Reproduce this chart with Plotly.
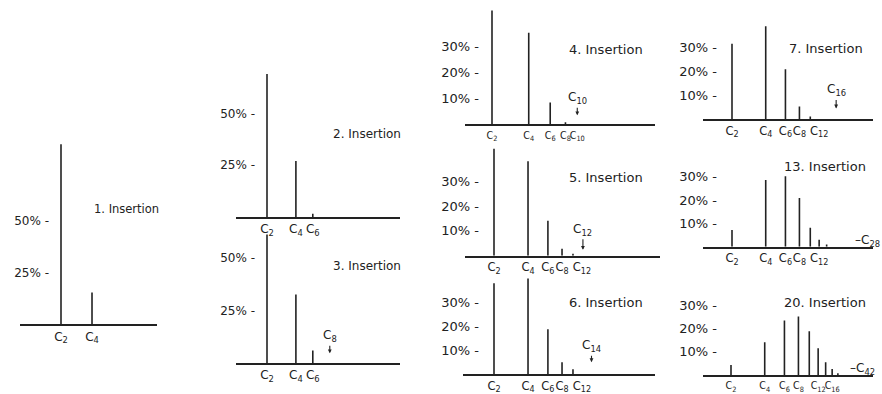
import math
import plotly.graph_objects as go

# ---------------- data (percent of chains per chain length) ----------------
ins1_c = [2, 4]
ins1_v = [87, 15.4]
ins2_c = [2, 4, 6]
ins2_v = [69, 27, 1.5]
ins3_c = [2, 4, 6]
ins3_v = [61, 32.5, 6]
ins4_c = [2, 4, 6, 8]
ins4_v = [44, 35.4, 8.5, 0.8]
ins5_c = [2, 4, 6, 8, 10]
ins5_v = [43, 38, 14, 2.8, 0.8]
ins6_c = [2, 4, 6, 8, 10]
ins6_v = [38, 40, 18.8, 5, 2]
ins7_c = [2, 4, 6, 8, 10]
ins7_v = [31.7, 39, 21, 5.4, 1.2]
ins13_c = [2, 4, 6, 8, 10, 12, 14]
ins13_v = [7.2, 28.5, 30.2, 20.9, 8.1, 3, 1]
ins20_c = [2, 4, 6, 8, 10, 12, 14, 16, 18]
ins20_v = [4.3, 14, 23.4, 25.1, 18.7, 11.5, 5.5, 2.6, 0.8]

titles = ["1. Insertion", "2. Insertion", "3. Insertion", "4. Insertion",
          "5. Insertion", "6. Insertion", "7. Insertion", "13. Insertion",
          "20. Insertion"]

xt_p1 = [2, 4]
xt_p2 = [2, 4, 6]
xt_p4 = [2, 4, 6, 8, 10]
xt_p5 = [2, 4, 6, 8, 12]
xt_p9 = [2, 4, 6, 8, 12, 16]

yt_big = [25, 50]
yt_small = [10, 20, 30]

arrow_c = [None, None, 8, 10, 12, 14, 16, None, None]
tail_label = [None, None, None, None, None, None, None, "28", "42"]

# ---------------- layout geometry (pixels) ----------------
W, H = 882, 394
FONT = "DejaVu Sans"
NARROW = "DejaVu Sans Condensed, Liberation Sans Narrow, Roboto, DejaVu Sans"
INK = "#222222"

geom = [
    dict(c=ins1_c, v=ins1_v, xa=20, xb=157, p2=61, d=103, base=325, ppu=2.08, top=136, yt=yt_big, labr=49, xt=xt_p1, xfs=12, xff=FONT, tx=126, ty=209, tfs=11.5, yfs=12, arr=None),
    dict(c=ins2_c, v=ins2_v, xa=236, xb=400, p2=267, d=96, base=217, ppu=2.08, top=68, yt=yt_big, labr=255, xt=xt_p2, xfs=12, xff=FONT, tx=367, ty=134, tfs=12, yfs=12, arr=None),
    dict(c=ins3_c, v=ins3_v, xa=236, xb=400, p2=267, d=96, base=364, ppu=2.12, top=230, yt=yt_big, labr=255, xt=xt_p2, xfs=12, xff=FONT, tx=367, ty=266, tfs=12, yfs=12, arr=(4.7, -17, 5)),
    dict(c=ins4_c, v=ins4_v, xa=465, xb=655, p2=492, d=122, base=124, ppu=2.6, top=6, yt=yt_small, labr=479, xt=xt_p4, xfs=10.5, xff=NARROW, tx=606, ty=49, tfs=13, yfs=13, arr=(3.5, -17, 0)),
    dict(c=ins5_c, v=ins5_v, xa=465, xb=660, p2=494, d=113, base=256, ppu=2.5, top=145, yt=yt_small, labr=479, xt=xt_p5, xfs=11.5, xff=FONT, tx=606, ty=177, tfs=13, yfs=13, arr=(2.4, -20, 1)),
    dict(c=ins6_c, v=ins6_v, xa=463, xb=655, p2=494, d=113, base=375, ppu=2.4, top=275, yt=yt_small, labr=479, xt=xt_p5, xfs=11.5, xff=FONT, tx=606, ty=303, tfs=13, yfs=13, arr=(5, -16, 2)),
    dict(c=ins7_c, v=ins7_v, xa=703, xb=873, p2=732, d=112, base=119, ppu=2.4, top=21, yt=yt_small, labr=717, xt=xt_p5, xfs=11.5, xff=FONT, tx=826, ty=48, tfs=13, yfs=13, arr=(4.6, -18, 3)),
    dict(c=ins13_c, v=ins13_v, xa=703, xb=873, p2=732, d=112, base=247, ppu=2.35, top=170, yt=yt_small, labr=717, xt=xt_p5, xfs=11.5, xff=FONT, tx=825, ty=166, tfs=13, yfs=13, arr=None),
    dict(c=ins20_c, v=ins20_v, xa=703, xb=873, p2=731, d=112, base=376, ppu=2.35, top=298, yt=yt_small, labr=717, xt=xt_p9, xfs=10.5, xff=NARROW, tx=825, ty=303, tfs=13, yfs=13, arr=None),
]

tail_pos = [None] * 7 + [(853, 241), (848, 370)]

fig = go.Figure()
annotations = []

for k, g in enumerate(geom, start=1):
    xs, ys = [], []
    for c, v in zip(g["c"], g["v"]):
        xs += [c, c, None]
        ys += [0, v, None]
    sfx = "" if k == 1 else str(k)
    fig.add_trace(go.Scatter(
        x=xs, y=ys, mode="lines", xaxis="x" + sfx, yaxis="y" + sfx,
        line=dict(color=INK, width=1.6), hoverinfo="skip", showlegend=False,
        cliponaxis=False,
    ))
    l2 = math.log10(2)
    xr = [l2 - (g["p2"] - g["xa"]) / g["d"], l2 + (g["xb"] - g["p2"]) / g["d"]]
    yr = [0, (g["base"] - g["top"]) / g["ppu"]]
    fig.layout["xaxis" + sfx] = dict(
        type="log", range=xr, domain=[g["xa"] / W, g["xb"] / W],
        anchor="y" + sfx, showline=True, linecolor=INK, linewidth=1.6,
        showgrid=False, zeroline=False, ticks="", tickangle=0,
        tickvals=g["xt"], ticktext=[f"C<sub>{t}</sub>" for t in g["xt"]],
        tickfont=dict(family=g["xff"], size=g["xfs"], color=INK), fixedrange=True,
    )
    fig.layout["yaxis" + sfx] = dict(
        range=yr, domain=[1 - g["base"] / H, 1 - g["top"] / H],
        anchor="free", position=g["labr"] / W, side="left",
        showline=False, showgrid=False, zeroline=False, ticks="",
        tickvals=g["yt"], ticktext=[f"{t}% -" for t in g["yt"]],
        tickfont=dict(family=FONT, size=g["yfs"], color=INK), fixedrange=True,
    )
    annotations.append(dict(
        text=titles[k - 1], x=g["tx"] / W, y=1 - g["ty"] / H, xref="paper", yref="paper",
        xanchor="center", yanchor="middle", showarrow=False,
        font=dict(family=FONT, size=g["tfs"], color=INK),
    ))
    ac = arrow_c[k - 1]
    if ac is not None:
        ay_val, ay_px, xsh = g["arr"]
        annotations.append(dict(
            text=f"C<sub>{ac}</sub>", x=math.log10(ac), y=ay_val,
            xref="x" + sfx, yref="y" + sfx, showarrow=True, ax=0, ay=ay_px,
            arrowhead=2, arrowsize=0.7, arrowwidth=1.1, arrowcolor=INK,
            xshift=xsh, font=dict(family=FONT, size=12, color=INK),
        ))
    tl = tail_label[k - 1]
    if tl is not None:
        px, py = tail_pos[k - 1]
        annotations.append(dict(
            text=f"–C<sub>{tl}</sub>", x=px / W, y=1 - py / H, xref="paper", yref="paper",
            xanchor="left", yanchor="middle", showarrow=False,
            font=dict(family=FONT, size=12, color=INK),
        ))

fig.update_layout(
    width=W, height=H, margin=dict(l=0, r=0, t=0, b=0),
    paper_bgcolor="white", plot_bgcolor="white",
    annotations=annotations, showlegend=False,
)

fig.write_html("out.html")
